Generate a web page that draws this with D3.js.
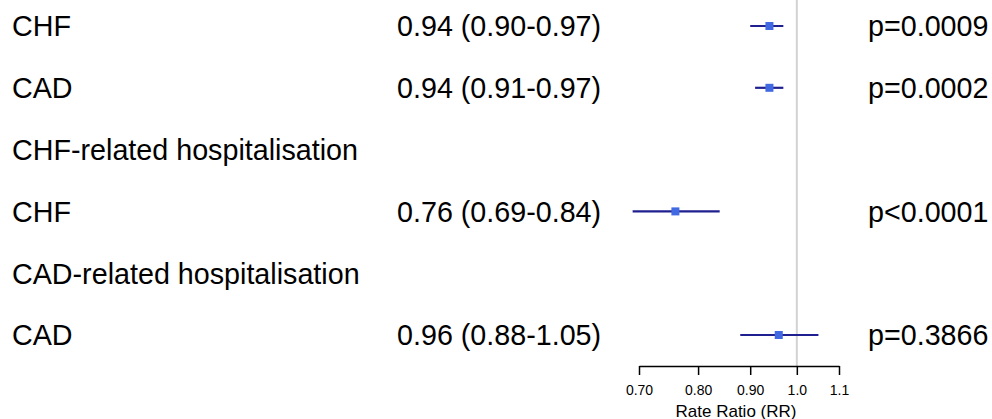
<!DOCTYPE html>
<html>
<head>
<meta charset="utf-8">
<script src="https://cdn.jsdelivr.net/npm/d3@7"></script>
<style>
  body { margin: 0; background: #fff; }
  svg text { font-family: "Liberation Sans", Arial, sans-serif; }
</style>
</head>
<body>
<div id="chart"></div>
<script>
// rows of the forest plot, top to bottom (null = header row)
var labels  = ['CHF', 'CAD', 'CHF-related hospitalisation', 'CHF', 'CAD-related hospitalisation', 'CAD']
var est     = [0.94, 0.94, null, 0.76, null, 0.96]
var lower   = [0.90, 0.91, null, 0.69, null, 0.88]
var upper   = [0.97, 0.97, null, 0.84, null, 1.05]
var pvals   = ['p=0.0009', 'p=0.0002', null, 'p<0.0001', null, 'p=0.3866']
var ticks   = [0.7, 0.8, 0.9, 1.0, 1.1]
var tickLabels = ['0.70', '0.80', '0.90', '1.0', '1.1']

var wid = 992, hgt = 419
var fsize = '28.7px'

var svg = d3.select('#chart').append('svg')
  .attr('width', wid).attr('height', hgt)

var x = d3.scaleLog().domain([0.7, 1.1]).range([639, 839])
var y = d3.scalePoint().domain(d3.range(labels.length)).range([26, 335])

// reference line at RR = 1
svg.append('line')
  .attr('x1', x(1)).attr('x2', x(1))
  .attr('y1', 0).attr('y2', 366)
  .style('stroke', '#d3d3d3').style('stroke-width', 2)

var rows = svg.append('g').attr('class', 'rows')
  .selectAll('g').data(labels).enter()
  .append('g')
  .attr('transform', function(d, i){ return 'translate(0,' + y(i) + ')' })

rows.append('text')
  .attr('x', 12).attr('dy', '0.36em')
  .style('font-size', fsize).style('fill', '#000')
  .text(function(d){ return d })

rows.each(function(d, i){
  if(est[i] == null) return
  var g = d3.select(this)
  g.append('text')
    .attr('x', 397).attr('dy', '0.36em')
    .style('font-size', fsize)
    .text(est[i].toFixed(2) + ' (' + lower[i].toFixed(2) + '-' + upper[i].toFixed(2) + ')')
  g.append('text')
    .attr('x', 868).attr('dy', '0.36em')
    .style('font-size', fsize)
    .text(pvals[i])
  g.append('line')
    .attr('x1', x(lower[i])).attr('x2', x(upper[i]))
    .attr('y1', 0).attr('y2', 0)
    .style('stroke', '#1f1f8f').style('stroke-width', 2.2)
  g.append('rect')
    .attr('x', x(est[i]) - 4).attr('y', -4)
    .attr('width', 8).attr('height', 8)
    .style('fill', '#4169e1')
})

// x axis
var axis = d3.axisBottom(x)
  .tickValues(ticks)
  .tickFormat(function(d, i){ return tickLabels[i] })
  .tickSize(9).tickSizeOuter(0).tickPadding(10)

var ax = svg.append('g')
  .attr('transform', 'translate(0,366)')
  .call(axis)
ax.select('.domain').style('stroke', '#000').style('stroke-width', 1.5)
ax.selectAll('.tick line').style('stroke', '#000').style('stroke-width', 1.5)
ax.selectAll('.tick text')
  .style('font-size', '14px').style('fill', '#000')
  .style('font-family', '"Liberation Sans", Arial, sans-serif')

svg.append('text')
  .attr('x', 736).attr('y', 417)
  .attr('text-anchor', 'middle')
  .style('font-size', '17px')
  .text('Rate Ratio (RR)')
</script>
</body>
</html>
